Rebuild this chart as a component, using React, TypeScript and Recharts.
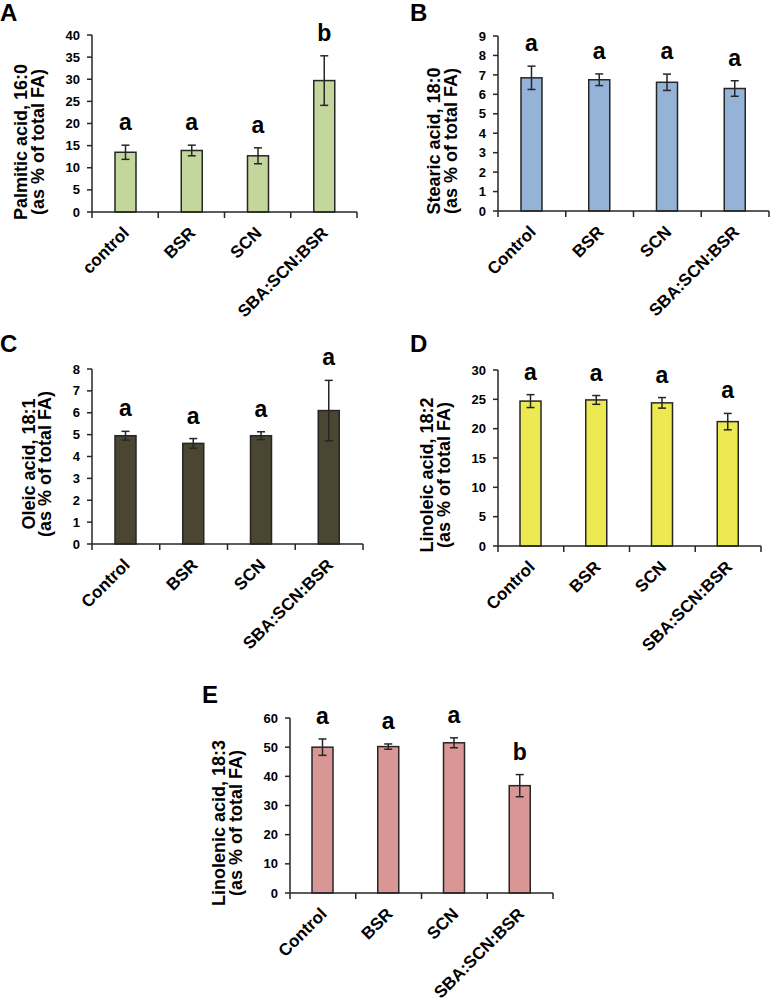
import { FC } from "react";
import { BarChart, Bar, XAxis, YAxis, ErrorBar, Label } from "recharts";

// treatment groups (panel A uses lower-case "control")
const groupsA = ["control", "BSR", "SCN", "SBA:SCN:BSR"];
const groups = ["Control", "BSR", "SCN", "SBA:SCN:BSR"];

const palmiticMean = [13.5, 13.9, 12.7, 29.7];
const palmiticErr = [1.6, 1.2, 1.8, 5.6];
const palmiticLetters = ["a", "a", "a", "b"];
const palmiticTicks = [0, 5, 10, 15, 20, 25, 30, 35, 40];

const stearicMean = [6.85, 6.75, 6.62, 6.3];
const stearicErr = [0.6, 0.3, 0.42, 0.4];
const stearicLetters = ["a", "a", "a", "a"];
const stearicTicks = [0, 1, 2, 3, 4, 5, 6, 7, 8, 9];

const oleicMean = [4.95, 4.6, 4.95, 6.1];
const oleicErr = [0.2, 0.22, 0.18, 1.38];
const oleicLetters = ["a", "a", "a", "a"];
const oleicTicks = [0, 1, 2, 3, 4, 5, 6, 7, 8];

const linoleicMean = [24.7, 24.9, 24.4, 21.2];
const linoleicErr = [1.1, 0.75, 0.9, 1.4];
const linoleicLetters = ["a", "a", "a", "a"];
const linoleicTicks = [0, 5, 10, 15, 20, 25, 30];

const linolenicMean = [50.0, 50.2, 51.5, 36.8];
const linolenicErr = [2.8, 0.9, 1.7, 3.8];
const linolenicLetters = ["a", "a", "a", "b"];
const linolenicTicks = [0, 10, 20, 30, 40, 50, 60];

const FONT = "'Liberation Sans', Arial, sans-serif";
const INK = "#262626";

interface PanelProps {
  letter: string;
  letterPos: [number, number];
  names: string[];
  mean: number[];
  err: number[];
  letters: string[];
  ticks: number[];
  fill: string;
  title: [string, string];
  titlePos: [number, number, number]; // baseline x of line 1, line 2, centre y (page coords)
  box: [number, number, number, number]; // chart left, top, width, height
  plot: [number, number, number, number]; // plot left, right, top, bottom
}

const Panel: FC<PanelProps> = (p) => {
  const [left, top, width, height] = p.box;
  const [pl, pr, pt, pb] = p.plot;
  const data = p.names.map((name, i) => ({
    name,
    mean: p.mean[i],
    err: p.err[i],
    letter: p.letters[i],
  }));
  const bw = (pr - pl) / data.length;

  const renderTick = (props: any) => {
    const { x, y, payload, index } = props;
    const tx = x + 5;
    const ty = y + 22;
    return (
      <g>
        <line x1={x - bw / 2} x2={x - bw / 2} y1={y} y2={y + 6} stroke={INK} strokeWidth={1.5} />
        {index === data.length - 1 && (
          <line x1={x + bw / 2} x2={x + bw / 2} y1={y} y2={y + 6} stroke={INK} strokeWidth={1.5} />
        )}
        <text
          x={tx}
          y={ty}
          textAnchor="end"
          transform={`rotate(-45, ${tx}, ${ty})`}
          fontFamily={FONT}
          fontWeight="bold"
          fontSize={17}
          fill="#000"
        >
          {payload.value}
        </text>
      </g>
    );
  };

  const renderBar = (props: any) => {
    const { x, y, width: w, height: h, payload } = props;
    const ppu = h / payload.mean;
    const errTop = y - payload.err * ppu;
    return (
      <g>
        <rect x={x} y={y} width={w} height={h} fill={p.fill} stroke={INK} strokeWidth={1.5} />
        <text
          x={x + w / 2}
          y={errTop - 15}
          textAnchor="middle"
          fontFamily={FONT}
          fontWeight="bold"
          fontSize={23}
          fill="#000"
        >
          {payload.letter}
        </text>
      </g>
    );
  };

  const renderTitle = () => {
    const [x1, x2, cy] = p.titlePos;
    const lx1 = x1 - left;
    const lx2 = x2 - left;
    const ly = cy - top;
    return (
      <g fontFamily={FONT} fontWeight="bold" fontSize={18} fill="#000">
        <text x={lx1} y={ly} textAnchor="middle" transform={`rotate(-90, ${lx1}, ${ly})`}>
          {p.title[0]}
        </text>
        <text x={lx2} y={ly} textAnchor="middle" transform={`rotate(-90, ${lx2}, ${ly})`}>
          {p.title[1]}
        </text>
      </g>
    );
  };

  return (
    <div style={{ position: "absolute", left, top, width, height }}>
      <div
        style={{
          position: "absolute",
          left: p.letterPos[0] - left,
          top: Math.max(0, p.letterPos[1] - top - 20),
          fontFamily: FONT,
          fontWeight: "bold",
          fontSize: 24,
          lineHeight: "24px",
          color: "#000",
        }}
      >
        {p.letter}
      </div>
      <BarChart
        width={width}
        height={height}
        data={data}
        margin={{ top: pt - top, right: left + width - pr, bottom: 0, left: 0 }}
      >
        <XAxis
          dataKey="name"
          interval={0}
          height={top + height - pb}
          tickLine={false}
          tickSize={0}
          tickMargin={0}
          axisLine={{ stroke: INK, strokeWidth: 1.5 }}
          tick={renderTick}
        />
        <YAxis
          width={pl - left}
          domain={[p.ticks[0], p.ticks[p.ticks.length - 1]]}
          ticks={p.ticks}
          interval={0}
          tickSize={5}
          tickMargin={7}
          axisLine={{ stroke: INK, strokeWidth: 1.5 }}
          tickLine={{ stroke: INK, strokeWidth: 1.5 }}
          tick={{ fontFamily: FONT, fontWeight: "bold", fontSize: 13, fill: "#000" }}
        >
          <Label content={renderTitle} />
        </YAxis>
        <Bar dataKey="mean" barSize={21} shape={renderBar} isAnimationActive={false}>
          <ErrorBar dataKey="err" width={4} stroke={INK} strokeWidth={1.5} isAnimationActive={false} />
        </Bar>
      </BarChart>
    </div>
  );
};

const App: FC = () => (
  <div style={{ position: "absolute", left: 0, top: 0, width: 770, height: 1001, background: "#fff" }}>
    <Panel
      letter="A"
      letterPos={[0, 21]}
      names={groupsA}
      mean={palmiticMean}
      err={palmiticErr}
      letters={palmiticLetters}
      ticks={palmiticTicks}
      fill="#c3d69b"
      title={["Palmitic acid, 16:0", "(as % of total FA)"]}
      titlePos={[27, 44, 142]}
      box={[0, 0, 370, 330]}
      plot={[92, 357, 35, 212]}
    />
    <Panel
      letter="B"
      letterPos={[410, 21]}
      names={groups}
      mean={stearicMean}
      err={stearicErr}
      letters={stearicLetters}
      ticks={stearicTicks}
      fill="#95b3d7"
      title={["Stearic acid, 18:0", "(as % of total FA)"]}
      titlePos={[440, 457, 141]}
      box={[385, 0, 385, 330]}
      plot={[498, 769, 36, 211]}
    />
    <Panel
      letter="C"
      letterPos={[0, 352]}
      names={groups}
      mean={oleicMean}
      err={oleicErr}
      letters={oleicLetters}
      ticks={oleicTicks}
      fill="#4a4632"
      title={["Oleic acid, 18:1", "(as % of total FA)"]}
      titlePos={[35, 51, 464]}
      box={[0, 320, 370, 345]}
      plot={[92, 363, 369, 544]}
    />
    <Panel
      letter="D"
      letterPos={[410, 352]}
      names={groups}
      mean={linoleicMean}
      err={linoleicErr}
      letters={linoleicLetters}
      ticks={linoleicTicks}
      fill="#ecea50"
      title={["Linoleic acid, 18:2", "(as % of total FA)"]}
      titlePos={[433, 450, 475]}
      box={[385, 320, 385, 345]}
      plot={[498, 761, 370, 546]}
    />
    <Panel
      letter="E"
      letterPos={[202, 703]}
      names={groups}
      mean={linolenicMean}
      err={linolenicErr}
      letters={linolenicLetters}
      ticks={linolenicTicks}
      fill="#d99694"
      title={["Linolenic acid, 18:3", "(as % of total FA)"]}
      titlePos={[225, 242, 823]}
      box={[190, 650, 380, 351]}
      plot={[290, 553, 718, 893]}
    />
  </div>
);

export default App;
